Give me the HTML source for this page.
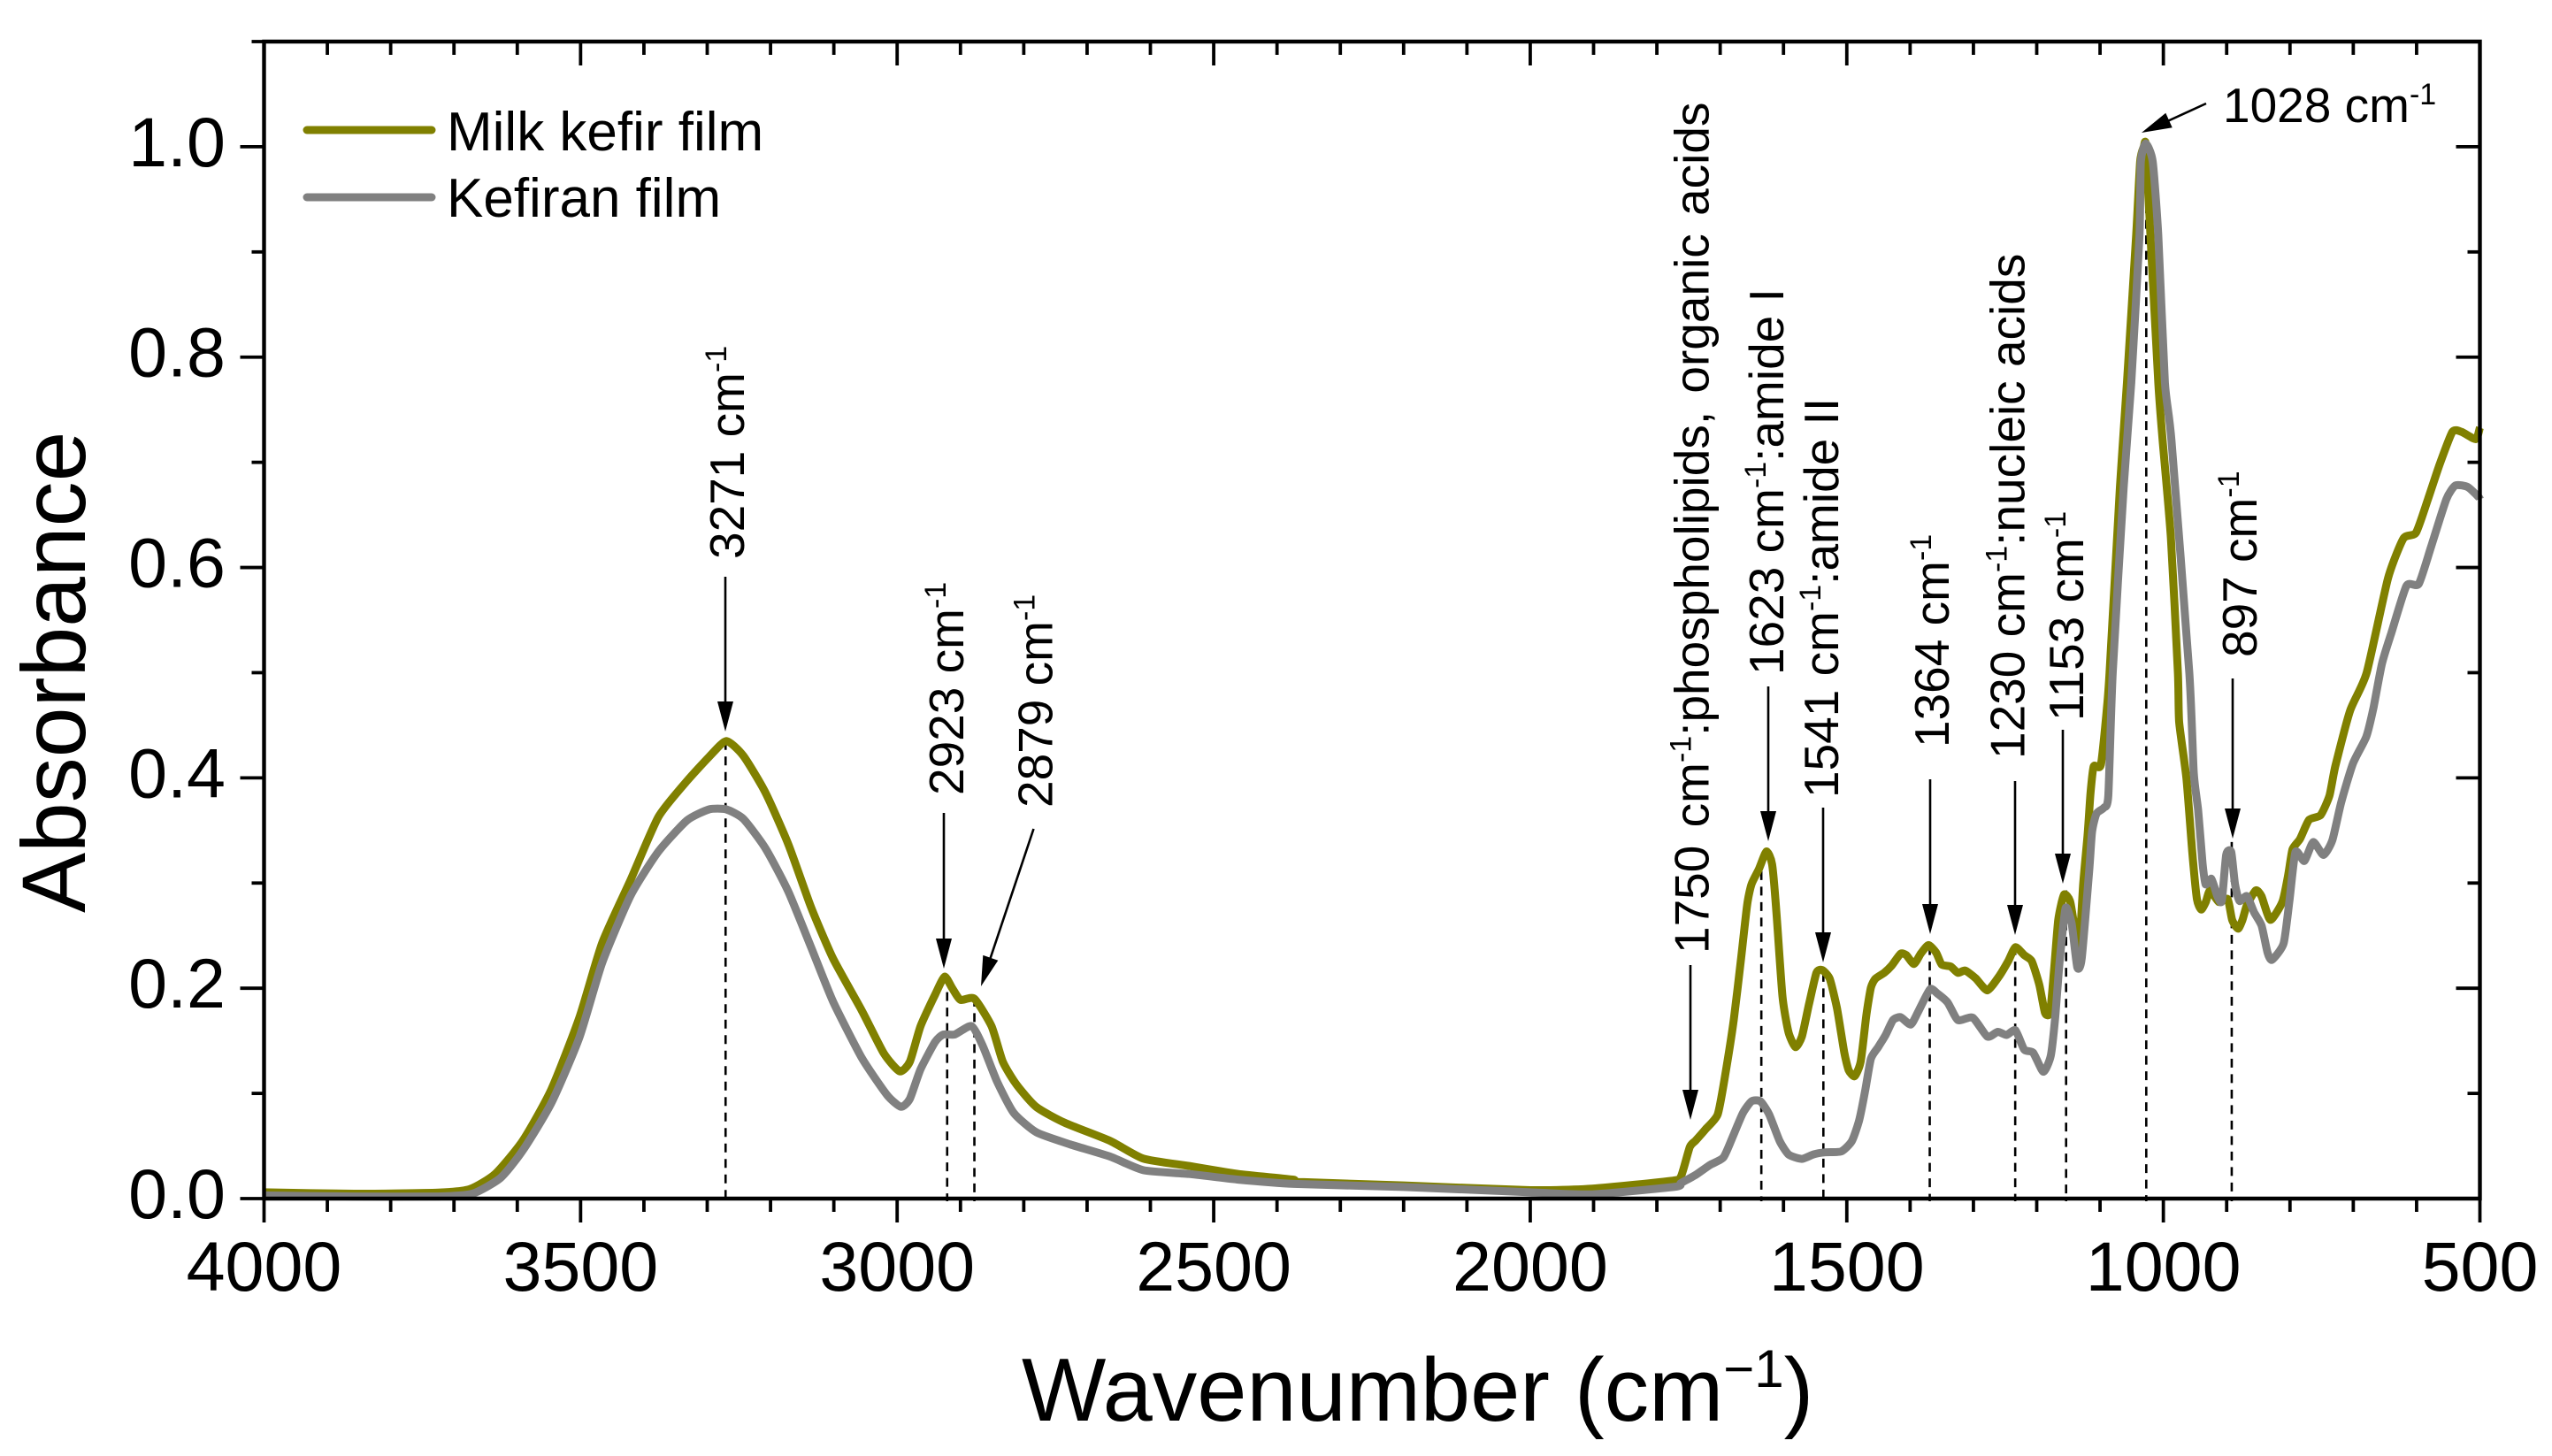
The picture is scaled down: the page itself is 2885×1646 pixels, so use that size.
<!DOCTYPE html>
<html lang="en">
<head>
<meta charset="utf-8">
<title>FTIR absorbance spectra</title>
<style>
html,body{margin:0;padding:0;background:#fff}
svg{display:block;font-family:"Liberation Sans",Arial,sans-serif}
.ann{font-size:55px;fill:#000}
.sup{font-size:34px}
.arrow-line{stroke:#000;stroke-width:2.6;fill:none}
</style>
</head>
<body>
<svg id="chart" xmlns="http://www.w3.org/2000/svg" width="2885" height="1646" viewBox="0 0 2885 1646">
<rect width="2885" height="1646" fill="#fff"/>
<g id="drops"></g>
<g id="series"></g>
<g id="axes"></g>

<text transform="translate(96,1032) rotate(-90)" font-size="102">Absorbance</text>
<text x="1155" y="1606" font-size="101">Wavenumber (cm<tspan font-size="60" dy="-38">−1</tspan><tspan dy="38">)</tspan></text>

<g>
  <line x1="347" y1="147" x2="488" y2="147" stroke="#808000" stroke-width="9" stroke-linecap="round"/>
  <text x="505" y="170" font-size="62">Milk kefir film</text>
  <line x1="347" y1="223" x2="488" y2="223" stroke="#808080" stroke-width="9" stroke-linecap="round"/>
  <text x="505" y="245" font-size="62">Kefiran film</text>
</g>

<g>
  <line class="arrow-line" x1="820" y1="652" x2="820" y2="800"/><polygon points="811,793 829,793 820,827"/>
  <text class="ann" transform="translate(841,632) rotate(-90)">3271 cm<tspan class="sup" dy="-20">-1</tspan></text>
</g>
<g>
  <line class="arrow-line" x1="1067" y1="919" x2="1067" y2="1068"/><polygon points="1058,1061 1076,1061 1067,1095"/>
  <text class="ann" transform="translate(1089,899) rotate(-90)">2923 cm<tspan class="sup" dy="-20">-1</tspan></text>
</g>
<g>
  <line class="arrow-line" x1="1168.5" y1="937" x2="1118" y2="1088"/><polygon points="1128.3,1085.7 1111.3,1079.9 1109,1115"/>
  <text class="ann" transform="translate(1189.5,913) rotate(-90)">2879 cm<tspan class="sup" dy="-20">-1</tspan></text>
</g>
<g>
  <line class="arrow-line" x1="1911" y1="1091" x2="1911" y2="1239"/><polygon points="1902,1232 1920,1232 1911,1266"/>
  <text class="ann" style="word-spacing:5px" transform="translate(1931.5,1078) rotate(-90)">1750 cm<tspan class="sup" dy="-20">-1</tspan><tspan dy="20">:phospholipids, organic acids</tspan></text>
</g>
<g>
  <line class="arrow-line" x1="1999" y1="776" x2="1999" y2="924"/><polygon points="1990,917 2008,917 1999,951"/>
  <text class="ann" transform="translate(2016,763) rotate(-90)">1623 cm<tspan class="sup" dy="-20">-1</tspan><tspan dy="20">:amide I</tspan></text>
</g>
<g>
  <line class="arrow-line" x1="2061" y1="913" x2="2061" y2="1061"/><polygon points="2052,1054 2070,1054 2061,1088"/>
  <text class="ann" transform="translate(2078,902) rotate(-90)">1541 cm<tspan class="sup" dy="-20">-1</tspan><tspan dy="20">:amide II</tspan></text>
</g>
<g>
  <line class="arrow-line" x1="2182" y1="881" x2="2182" y2="1029"/><polygon points="2173,1022 2191,1022 2182,1056"/>
  <text class="ann" transform="translate(2203,845) rotate(-90)">1364 cm<tspan class="sup" dy="-20">-1</tspan></text>
</g>
<g>
  <line class="arrow-line" x1="2278" y1="883" x2="2278" y2="1030"/><polygon points="2269,1023 2287,1023 2278,1057"/>
  <text class="ann" transform="translate(2288.6,858) rotate(-90)">1230 cm<tspan class="sup" dy="-20">-1</tspan><tspan dy="20">:nucleic acids</tspan></text>
</g>
<g>
  <line class="arrow-line" x1="2332" y1="825" x2="2332" y2="972"/><polygon points="2323,965 2341,965 2332,999"/>
  <text class="ann" transform="translate(2355,815) rotate(-90)">1153 cm<tspan class="sup" dy="-20">-1</tspan></text>
</g>
<g>
  <line class="arrow-line" x1="2524" y1="767" x2="2524" y2="921"/><polygon points="2515,914 2533,914 2524,948"/>
  <text class="ann" transform="translate(2551,743) rotate(-90)">897 cm<tspan class="sup" dy="-20">-1</tspan></text>
</g>
<g>
  <line class="arrow-line" x1="2494" y1="117" x2="2446" y2="139"/><polygon points="2455.7,144.2 2448.3,127.8 2421,150"/>
  <text class="ann" x="2513" y="138">1028 cm<tspan class="sup" dy="-20">-1</tspan></text>
</g>
</svg>
<script>
const xTickLabels = [4000, 3500, 3000, 2500, 2000, 1500, 1000, 500];
const yTickLabels = ["0.0", "0.2", "0.4", "0.6", "0.8", "1.0"];
const dropWavenumbers = [3271, 2921, 2878, 1635, 1537, 1369, 1234, 1153.6, 1027, 892];
const dropTops = [0.435, 0.211, 0.191, 0.326, 0.2146, 0.24, 0.24, 0.293, 1.004, 0.339];

const milkWavenumbers = [4000,3858,3725,3675,3635,3591,3546,3502,3466,3421,3377,3332,3297,3270,3243,3208,3172,3136,3101,3056,3021,2996,2980,2963,2940,2925,2913,2900,2878,2851,2833,2811,2780,2735,2664,2611,2539,2461,2374,2373,2200,2000,1902,1776,1762,1748,1739,1723,1704,1692.4,1678.5,1667,1657.5,1650.5,1639,1627,1618,1611,1601.6,1592,1581,1571,1560,1548,1539,1527,1515.5,1504,1497,1487.5,1478,1469,1462,1455,1441,1429,1415,1406,1394,1383,1371,1359,1350,1336,1324.5,1313,1296.5,1278,1259,1245,1233.7,1219.7,1208,1196,1187,1179,1173,1166,1157,1147,1138,1133.5,1126.6,1119.6,1115,1110,1098.7,1089,1085,1068.6,1057.5,1043,1036.6,1031,1028,1023.6,1008,1001,988,977,975,963.6,954,947,940.3,933,926.3,912.4,898.4,891.4,882,875,868,854,845,831,812.2,803,796,784,770,751.7,737.7,728.4,705,679,645,620.7,601,582,563,543.4,529,506.6,500];
const milkAbsorbance = [0.006,0.0046,0.0057,0.009,0.0234,0.0553,0.104,0.172,0.243,0.303,0.363,0.397,0.42,0.435,0.421,0.386,0.337,0.277,0.228,0.179,0.138,0.121,0.13,0.164,0.194,0.211,0.2,0.189,0.19,0.164,0.13,0.108,0.087,0.072,0.055,0.038,0.031,0.0234,0.018,0.016,0.0125,0.008,0.0095,0.017,0.021,0.049,0.055,0.066,0.08,0.1164,0.17,0.2286,0.279,0.299,0.313,0.33,0.318,0.271,0.192,0.158,0.144,0.154,0.184,0.2146,0.2173,0.209,0.181,0.139,0.122,0.1164,0.1304,0.175,0.2005,0.209,0.2146,0.2216,0.2328,0.2314,0.223,0.233,0.241,0.234,0.2224,0.2207,0.2146,0.2168,0.2095,0.198,0.2118,0.2258,0.239,0.2314,0.2258,0.2033,0.1767,0.1767,0.2146,0.265,0.289,0.282,0.2482,0.2314,0.299,0.346,0.3856,0.411,0.4123,0.467,0.4997,0.676,0.776,0.916,0.986,1.0,1.003,0.952,0.776,0.72,0.6276,0.4997,0.453,0.3997,0.3267,0.2847,0.2748,0.282,0.293,0.282,0.2847,0.265,0.2566,0.265,0.279,0.293,0.2875,0.265,0.282,0.307,0.332,0.342,0.36,0.3646,0.383,0.411,0.464,0.4997,0.59,0.6276,0.633,0.665,0.699,0.729,0.729,0.722,0.733];

const kefiranWavenumbers = [4000,3858,3725,3671,3626.5,3591,3546,3502,3466,3421,3377,3332,3297,3270,3243,3208,3172,3136,3101,3056,3016,2994,2980,2963,2940,2927,2909,2882.5,2864.6,2842,2816,2780,2726.5,2664,2611,2539,2461,2373,2200,2000,1902,1771,1762,1739,1716,1695,1681,1664.5,1650.5,1636.5,1622.6,1606,1592,1571.3,1552.7,1534,1508.5,1492,1480.5,1471,1462,1450,1438.6,1427,1415,1399,1387,1368.7,1357,1340.8,1324.5,1301,1278,1261.6,1247.7,1233.7,1219.7,1205.7,1189.5,1177.8,1170.8,1163.8,1154.5,1145,1136,1129,1117,1112.6,1105.6,1094,1087,1080,1062.6,1050.7,1037.7,1035.6,1027.8,1016.8,1008,997.5,987,959,952,945,938,933.3,924,914.7,907.7,900.7,892.8,886.8,879.8,868.1,856.5,844.8,835.5,828.5,810,800.6,791.3,777.3,763.3,747,733,719,700.5,679.5,668,654.6,640,616,596.6,577,553,538.5,519,502,500];
const kefiranAbsorbance = [0.003,0.002,0.002,0.0046,0.0196,0.046,0.091,0.153,0.224,0.288,0.33,0.3595,0.37,0.37,0.361,0.333,0.292,0.239,0.187,0.134,0.0985,0.0873,0.0947,0.123,0.149,0.156,0.156,0.164,0.145,0.111,0.0816,0.063,0.0515,0.04,0.027,0.0234,0.018,0.014,0.011,0.006,0.004,0.0113,0.0148,0.0224,0.032,0.039,0.0575,0.081,0.0925,0.0925,0.08,0.0547,0.042,0.0378,0.042,0.044,0.0449,0.0547,0.0743,0.1024,0.133,0.1444,0.1556,0.1697,0.1725,0.1655,0.178,0.199,0.195,0.1865,0.1697,0.172,0.154,0.1585,0.1556,0.16,0.1416,0.1388,0.1206,0.136,0.1725,0.2257,0.2762,0.262,0.22,0.228,0.3127,0.349,0.366,0.3716,0.383,0.4997,0.6764,0.776,0.916,0.986,1.003,0.986,0.916,0.776,0.72,0.4997,0.405,0.369,0.3183,0.2987,0.304,0.2875,0.283,0.327,0.3295,0.2987,0.283,0.2875,0.272,0.2594,0.234,0.227,0.2426,0.2847,0.3295,0.321,0.339,0.3267,0.3408,0.377,0.4137,0.439,0.467,0.509,0.5375,0.5826,0.5844,0.62,0.665,0.678,0.6764,0.667,0.665];

const NS = "http://www.w3.org/2000/svg";
const plotLeft = 298.5, plotRight = 2803.5, plotBottom = 1355, plotTop = 47;
function xScale(v) { return plotLeft + (4000 - v) * (plotRight - plotLeft) / 3500; }
function yScale(a) { return plotBottom - a * (plotBottom - plotTop) / 1.1; }
function mk(tag, parent, attrs) {
  const el = document.createElementNS(NS, tag);
  for (const k in attrs) el.setAttribute(k, attrs[k]);
  parent.appendChild(el);
  return el;
}

const drops = document.getElementById("drops");
dropWavenumbers.forEach(function (v, i) {
  const l = mk("line", drops, { x1: xScale(v), x2: xScale(v), y1: yScale(dropTops[i]), y2: plotBottom + 3, stroke: "#000", "stroke-width": 2.6, "stroke-dasharray": "10 7.5" });
  
  
});

function smoothPath(xs, ys) {
  const pts = xs.map(function (v, i) { return [xScale(v), yScale(ys[i])]; });
  let d = "M" + pts[0][0].toFixed(1) + " " + pts[0][1].toFixed(1);
  for (let i = 0; i < pts.length - 1; i++) {
    const p0 = pts[Math.max(i - 1, 0)], p1 = pts[i], p2 = pts[i + 1], p3 = pts[Math.min(i + 2, pts.length - 1)];
    const t = 0.1;
    d += "C" + (p1[0] + (p2[0] - p0[0]) * t).toFixed(1) + " " + (p1[1] + (p2[1] - p0[1]) * t).toFixed(1) + " " +
         (p2[0] - (p3[0] - p1[0]) * t).toFixed(1) + " " + (p2[1] - (p3[1] - p1[1]) * t).toFixed(1) + " " +
         p2[0].toFixed(1) + " " + p2[1].toFixed(1);
  }
  return d;
}
const series = document.getElementById("series");
const milkLine = mk("path", series, { d: smoothPath(milkWavenumbers, milkAbsorbance), fill: "none", stroke: "#808000", "stroke-width": 9, "stroke-linejoin": "round" });


const kefiranLine = mk("path", series, { d: smoothPath(kefiranWavenumbers, kefiranAbsorbance), fill: "none", stroke: "#808080", "stroke-width": 9, "stroke-linejoin": "round" });



const axes = document.getElementById("axes");
const frame = mk("path", axes, { d: "M" + plotLeft + " " + plotTop + "H" + plotRight + "V" + plotBottom + "H" + plotLeft + "Z", fill: "none", stroke: "#000", "stroke-width": 4.4 });



for (let v = 4000; v >= 500; v -= 100) {
  const major = v % 500 === 0;
  const len = major ? 27 : 15;
  const x = xScale(v);
  const t1 = mk("line", axes, { x1: x, x2: x, y1: plotBottom, y2: plotBottom + len, stroke: "#000", "stroke-width": 3.8 });
  
  
  const t2 = mk("line", axes, { x1: x, x2: x, y1: plotTop, y2: plotTop + len, stroke: "#000", "stroke-width": 3.8 });
  
  
}
for (let i = 0; i <= 11; i++) {
  const major = i % 2 === 0;
  const len = major ? 27 : 14;
  const y = yScale(i / 10);
  const t1 = mk("line", axes, { x1: plotLeft - len, x2: plotLeft, y1: y, y2: y, stroke: "#000", "stroke-width": 3.8 });
  
  
  const t2 = mk("line", axes, { x1: plotRight - len, x2: plotRight, y1: y, y2: y, stroke: "#000", "stroke-width": 3.8 });
  
  
}
xTickLabels.forEach(function (v) {
  const t = mk("text", axes, { x: xScale(v), y: 1459, "font-size": 79, "text-anchor": "middle" });
  
  
  t.textContent = v;
});
yTickLabels.forEach(function (s) {
  const t = mk("text", axes, { x: 255, y: yScale(parseFloat(s)) + 22, "font-size": 79, "text-anchor": "end" });
  
  
  t.textContent = s;
});
</script>
</body>
</html>
